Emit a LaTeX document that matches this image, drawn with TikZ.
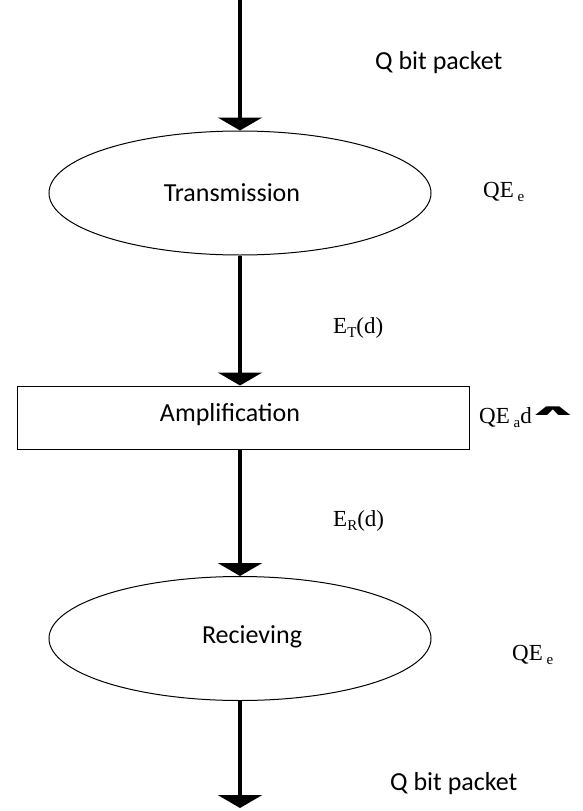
\documentclass[tikz,border=0pt]{standalone}
\usepackage{fontspec}
\usepackage{graphicx}
\setmainfont{Liberation Serif}
\newfontfamily\calfont{Carlito}
\newfontfamily\djvfont{DejaVu Sans}
\usetikzlibrary{shapes.geometric,arrows.meta}
\newcommand{\subtxt}[1]{\lower4pt\hbox{\fontsize{15}{15}\selectfont #1}}
\begin{document}
\begin{tikzpicture}[x=1pt,y=-1pt,
  flow/.style={line width=3.3pt, -{Triangle[width=44pt,length=13pt]}},
  shapeline/.style={draw, line width=1pt, inner sep=0pt},
  oval/.style={shapeline, ellipse, minimum width=382pt, minimum height=124pt},
  procbox/.style={shapeline, rectangle, minimum width=452pt, minimum height=63pt},
  ctext/.style={font=\calfont\fontsize{26}{30}\selectfont, inner sep=0pt},
  mtext/.style={font=\fontsize{23}{27}\selectfont, inner sep=0pt, anchor=base west}]
\useasboundingbox (0,0) rectangle (582,811);
\fill[white] (0,0) rectangle (582,811);
% shapes
\node[oval] (e1) at (240,193) {};
\node[procbox] (amp) at (243,417.5) {};
\node[oval] (e2) at (240,638.5) {};
\coordinate (top) at (240,0);
\coordinate (bot) at (240,808);
% texts in shapes
\node[ctext] (t1) at (232,193) {Transmission};
\node[ctext] (t2) at (230,415) {Amplification};
\node[ctext] (t3) at (252,637) {Recieving};
% connectors
\draw[flow] (top) -- (e1.north);
\draw[flow] (e1.south) -- (e1.south |- amp.north);
\draw[flow] (e1.south |- amp.south) -- (e2.north);
\draw[flow] (e2.south) -- (bot);
% labels
\node[ctext, anchor=base west] (q1) at (375,69) {Q bit packet};
\node[ctext, anchor=base west] (q2) at (390,790) {Q bit packet};
\node[mtext] (l1) at (483,197) {QE\,\subtxt{e}};
\node[mtext] (l2) at (333,333) {E\subtxt{T}(d)};
\node[mtext] (l3) at (479,423) {QE\,\subtxt{a}d\hspace{-7pt}\raisebox{8pt}{\scalebox{3.0}[0.65]{\djvfont\bfseries ∧}}\hspace{-7pt}};
\node[mtext] (l4) at (333,526) {E\subtxt{R}(d)};
\node[mtext] (l5) at (512,660) {QE\,\subtxt{e}};
\end{tikzpicture}
\end{document}
